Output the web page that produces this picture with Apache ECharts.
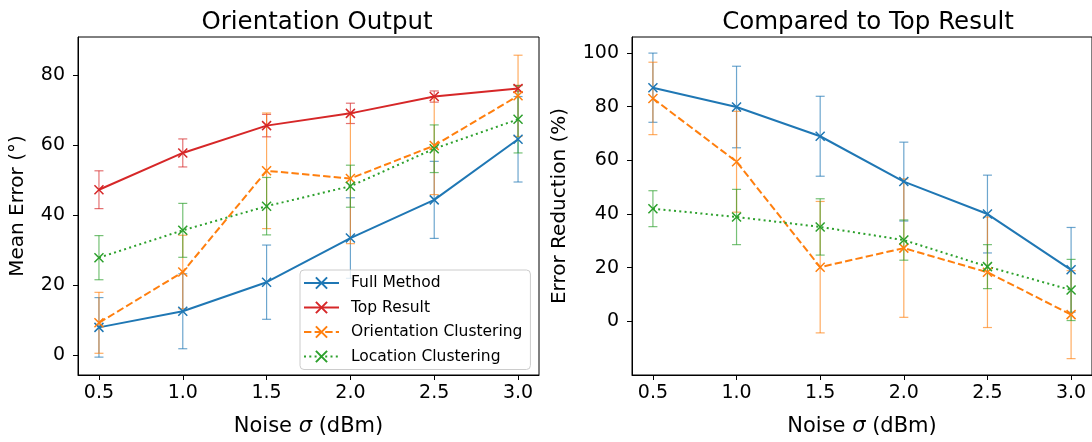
<!DOCTYPE html>
<html>
<head>
<meta charset="utf-8">
<script src="https://cdn.jsdelivr.net/npm/echarts@6/dist/echarts.min.js"></script>
<style>
html,body{margin:0;padding:0;background:#fff;}
#c{width:1092px;height:442px;}
</style>
</head>
<body>
<div id="c"></div>
<script>
// ---------- data ----------
var noise = [0.5, 1.0, 1.5, 2.0, 2.5, 3.0];
var xTicks = [0.5, 1.0, 1.5, 2.0, 2.5, 3.0];
var leftYTicks = [0, 20, 40, 60, 80];
var rightYTicks = [0, 20, 40, 60, 80, 100];
var seriesNames = ['Full Method', 'Top Result', 'Orientation Clustering', 'Location Clustering'];

// Left: Orientation Output (Mean Error, degrees)
var fullMean = [8.0, 12.6, 20.9, 33.5, 44.4, 61.7];
var fullErr = [8.5, 10.7, 10.6, 11.5, 11.0, 12.2];
var topMean = [47.3, 57.8, 65.6, 69.1, 73.9, 76.2];
var topErr = [5.4, 4.0, 3.2, 2.9, 1.6, 0.9];
var orientMean = [9.3, 23.8, 52.7, 50.5, 59.9, 74.1];
var orientErr = [8.7, 10.5, 16.5, 18.6, 14.0, 11.6];
var locMean = [27.9, 35.7, 42.6, 48.3, 59.0, 67.4];
var locErr = [6.3, 7.7, 8.2, 6.0, 6.8, 9.6];

// Right: Compared to Top Result (Error Reduction, %)
var fullRed = [87.1, 79.9, 69.0, 52.1, 40.0, 19.2];
var fullRedErr = [12.9, 15.2, 14.9, 14.7, 14.5, 15.8];
var orientRed = [83.1, 59.5, 20.2, 27.3, 18.3, 2.5];
var orientRedErr = [13.5, 18.8, 24.5, 25.8, 20.6, 16.4];
var locRed = [42.0, 38.9, 35.2, 30.3, 20.4, 11.7];
var locRedErr = [6.7, 10.3, 10.5, 7.5, 8.2, 11.4];

// ---------- styling ----------
var C = {blue: '#1f77b4', red: '#d62728', orange: '#ff7f0e', green: '#2ca02c'};
var FONT = 'DejaVu Sans';
var X_SYMBOL = 'path://M0,0L10,10M10,0L0,10';

function pairs(xs, ys) { return xs.map(function (x, i) { return [x, ys[i]]; }); }
function triples(xs, ys, es) { return xs.map(function (x, i) { return [x, ys[i], es[i]]; }); }

function lineSeries(name, color, mean, idx, dash) {
  return {
    type: 'line', name: name, xAxisIndex: idx, yAxisIndex: idx,
    data: pairs(noise, mean),
    symbol: X_SYMBOL, symbolSize: 9, showSymbol: true,
    itemStyle: {color: color, borderColor: color, borderWidth: 1.5},
    lineStyle: {color: color, width: 2, type: dash || 'solid', cap: 'butt'},
    z: 3, animation: false
  };
}
function errSeries(name, color, mean, err, idx) {
  return {
    type: 'custom', name: name + ' error', xAxisIndex: idx, yAxisIndex: idx,
    data: triples(noise, mean, err),
    itemStyle: {color: color},
    renderItem: function (params, api) {
      var x = api.value(0), y = api.value(1), e = api.value(2);
      var p1 = api.coord([x, y + e]);
      var p2 = api.coord([x, y - e]);
      var w = 4.5;
      var st = {stroke: color, lineWidth: 1.2, opacity: 0.65};
      return {
        type: 'group',
        children: [
          {type: 'line', shape: {x1: p1[0], y1: p1[1], x2: p2[0], y2: p2[1]}, style: st},
          {type: 'line', shape: {x1: p1[0] - w, y1: p1[1], x2: p1[0] + w, y2: p1[1]}, style: st},
          {type: 'line', shape: {x1: p2[0] - w, y1: p2[1], x2: p2[0] + w, y2: p2[1]}, style: st}
        ]
      };
    },
    z: 2, animation: false, silent: true
  };
}

var DASH = [7.4, 3.2];
var DOT = [2, 3.3];

function xAxis(idx) {
  return {
    type: 'value', gridIndex: idx, min: 0.375, max: 3.125,
    name: '{n|Noise }{s|σ}{n| (dBm)}', nameLocation: 'middle', nameGap: 41,
    nameTextStyle: {rich: {n: {fontSize: 21, fontFamily: FONT, color: '#000'},
                           s: {fontSize: 21, fontFamily: FONT, fontStyle: 'italic', color: '#000'}}},
    axisLine: {show: true, onZero: false, lineStyle: {color: '#000', width: 1}},
    axisTick: {show: true, length: 5, lineStyle: {color: '#000'}, customValues: xTicks},
    axisLabel: {color: '#000', fontSize: 19, fontFamily: FONT, margin: 9, customValues: xTicks,
                formatter: function (v) { return v.toFixed(1); }},
    splitLine: {show: false}
  };
}
function yAxis(idx, min, max, ticks, name, gap) {
  return {
    type: 'value', gridIndex: idx, min: min, max: max,
    name: name, nameLocation: 'middle', nameGap: gap,
    nameTextStyle: {fontSize: 20, fontFamily: FONT, color: '#000'},
    axisLine: {show: true, onZero: false, lineStyle: {color: '#000', width: 1}},
    axisTick: {show: true, length: 5, lineStyle: {color: '#000'}, customValues: ticks},
    axisLabel: {color: '#000', fontSize: 19, fontFamily: FONT, margin: 13, customValues: ticks},
    splitLine: {show: false}
  };
}

var option = {
  backgroundColor: '#fff',
  animation: false,
  title: [
    {text: 'Orientation Output', left: 312, top: 5, textAlign: 'center',
     textStyle: {fontSize: 24.5, fontWeight: 'normal', fontFamily: FONT, color: '#000'}},
    {text: 'Compared to Top Result', left: 863, top: 5, textAlign: 'center',
     textStyle: {fontSize: 24.5, fontWeight: 'normal', fontFamily: FONT, color: '#000'}}
  ],
  grid: [
    {left: 78, top: 37, width: 461, height: 341, show: true, borderColor: '#000', borderWidth: 1, containLabel: false},
    {left: 632, top: 37, width: 462, height: 341, show: true, borderColor: '#000', borderWidth: 1, containLabel: false}
  ],
  xAxis: [xAxis(0), xAxis(1)],
  yAxis: [
    yAxis(0, -5.6, 90.9, leftYTicks, 'Mean Error (°)', 50),
    yAxis(1, -20, 106, rightYTicks, 'Error Reduction (%)', 62)
  ],
  legend: {
    show: true, orient: 'vertical', left: 300, top: 270,
    data: seriesNames,
    itemWidth: 35, itemHeight: 14, itemGap: 8.5,
    padding: [5, 8, 5, 3],
    backgroundColor: 'rgba(255,255,255,0.8)',
    borderColor: '#cccccc', borderWidth: 1, borderRadius: 4,
    textStyle: {fontSize: 15.5, fontFamily: FONT, color: '#000', padding: [0, 0, 0, 7]}
  },
  series: [
    errSeries('Full Method', C.blue, fullMean, fullErr, 0),
    lineSeries('Full Method', C.blue, fullMean, 0),
    errSeries('Top Result', C.red, topMean, topErr, 0),
    lineSeries('Top Result', C.red, topMean, 0),
    errSeries('Orientation Clustering', C.orange, orientMean, orientErr, 0),
    lineSeries('Orientation Clustering', C.orange, orientMean, 0, DASH),
    errSeries('Location Clustering', C.green, locMean, locErr, 0),
    lineSeries('Location Clustering', C.green, locMean, 0, DOT),

    errSeries('Full Method', C.blue, fullRed, fullRedErr, 1),
    lineSeries('Full Method', C.blue, fullRed, 1),
    errSeries('Orientation Clustering', C.orange, orientRed, orientRedErr, 1),
    lineSeries('Orientation Clustering', C.orange, orientRed, 1, DASH),
    errSeries('Location Clustering', C.green, locRed, locRedErr, 1),
    lineSeries('Location Clustering', C.green, locRed, 1, DOT)
  ]
};

var chart = echarts.init(document.getElementById('c'), null, {renderer: 'canvas'});
chart.setOption(option);
</script>
</body>
</html>
